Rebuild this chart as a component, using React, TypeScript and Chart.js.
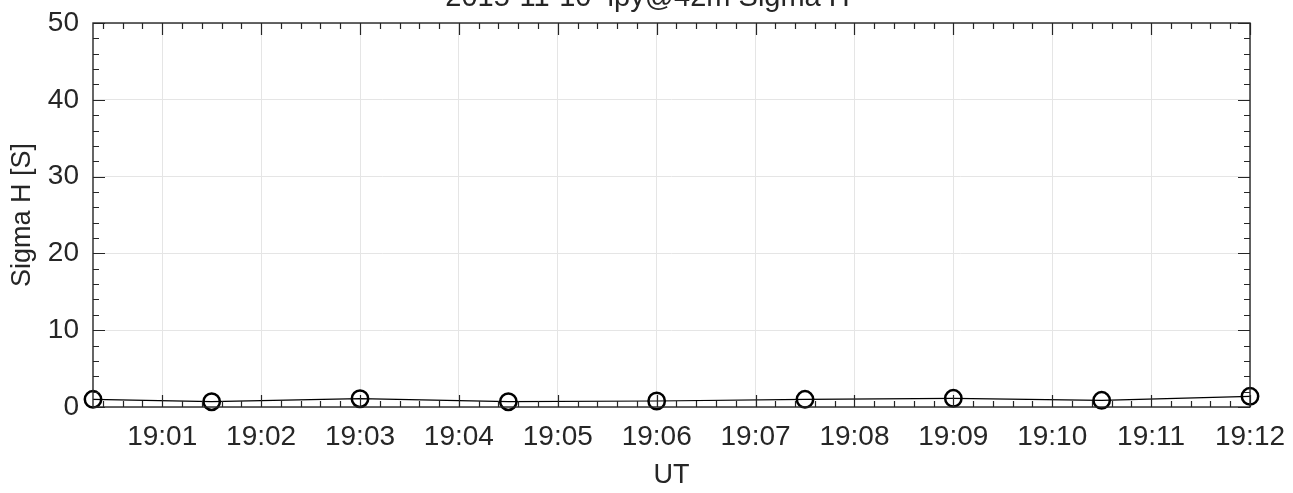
import React, { useEffect, useRef } from "react";
import { Chart, registerables } from "chart.js";

Chart.register(...registerables);

// seconds after 19:00:00 UT
const timesSec = [18, 90, 180, 270, 360, 450, 540, 630, 720];
const sigmaH = [1.0, 0.69, 1.08, 0.69, 0.78, 1.0, 1.13, 0.87, 1.39];
const xTickSec = [60, 120, 180, 240, 300, 360, 420, 480, 540, 600, 660, 720];
const xTickLabels = ["19:01", "19:02", "19:03", "19:04", "19:05", "19:06", "19:07", "19:08", "19:09", "19:10", "19:11", "19:12"];
const yTicks = [0, 10, 20, 30, 40, 50];
const titleText = "2015-11-10  ipy@42m Sigma H";

const FONT = "'Liberation Sans', Arial, Helvetica, sans-serif";
const INK = "#262626";

const boxTicksPlugin = {
  id: "boxTicks",
  afterDatasetsDraw(chart: any) {
    const { ctx, chartArea } = chart;
    const xs = chart.scales.x;
    const ys = chart.scales.y;
    const { left, right, top, bottom } = chartArea;
    ctx.save();
    ctx.strokeStyle = INK;
    ctx.lineWidth = 1.2;
    const major = 12;
    const minor = 6;
    const xmin = xs.min, xmax = xs.max;
    for (let s = Math.ceil(xmin / 12) * 12; s <= xmax + 0.001; s += 12) {
      const px = Math.round(xs.getPixelForValue(s)) + 0.5;
      const len = s % 60 === 0 ? major : minor;
      ctx.beginPath();
      ctx.moveTo(px, bottom);
      ctx.lineTo(px, bottom - len);
      ctx.moveTo(px, top);
      ctx.lineTo(px, top + len);
      ctx.stroke();
    }
    for (let v = 0; v <= 50; v += 2) {
      const py = Math.round(ys.getPixelForValue(v)) + 0.5;
      const len = v % 10 === 0 ? major : minor;
      ctx.beginPath();
      ctx.moveTo(left, py);
      ctx.lineTo(left + len, py);
      ctx.moveTo(right, py);
      ctx.lineTo(right - len, py);
      ctx.stroke();
    }
    ctx.lineWidth = 1.4;
    ctx.strokeRect(left, top, right - left, bottom - top);
    // title (partly above the canvas, as in the reference)
    ctx.fillStyle = INK;
    ctx.font = `29px ${FONT}`;
    ctx.textAlign = "center";
    ctx.textBaseline = "alphabetic";
    ctx.fillText(titleText, (left + right) / 2 - 24, 6);
    ctx.restore();
  },
};

export default function App() {
  const ref = useRef<HTMLCanvasElement | null>(null);
  useEffect(() => {
    document.body.style.margin = "0";
    const canvas = ref.current;
    if (!canvas) return;
    const chart = new Chart(canvas, {
      type: "line",
      data: {
        datasets: [
          {
            data: timesSec.map((t, i) => ({ x: t, y: sigmaH[i] })),
            borderColor: "#000",
            borderWidth: 1.2,
            pointRadius: 8.2,
            pointBorderWidth: 2.5,
            pointBorderColor: "#000",
            pointBackgroundColor: "rgba(0,0,0,0)",
            pointStyle: "circle",
            fill: false,
            tension: 0,
            clip: false as any,
          },
        ],
      },
      options: {
        animation: false,
        responsive: false,
        maintainAspectRatio: false,
        layout: { padding: { left: 0, right: 43, top: 23, bottom: 0 } },
        plugins: {
          legend: { display: false },
          tooltip: { enabled: false },
          title: { display: false },
        },
        scales: {
          x: {
            type: "linear",
            min: timesSec[0],
            max: timesSec[timesSec.length - 1],
            afterBuildTicks: (scale: any) => {
              scale.ticks = xTickSec.map((v) => ({ value: v }));
            },
            afterFit: (scale: any) => {
              scale.height = 86;
              scale.paddingLeft = 0;
              scale.paddingRight = 0;
            },
            ticks: {
              autoSkip: false,
              maxRotation: 0,
              padding: 13,
              color: INK,
              font: { family: FONT, size: 28 },
              callback: (v: any) => {
                const i = xTickSec.indexOf(Number(v));
                return i >= 0 ? xTickLabels[i] : "";
              },
            },
            grid: { color: "#e5e5e5", lineWidth: 1, drawTicks: false },
            border: { display: false },
            title: {
              display: true,
              text: "UT",
              color: INK,
              font: { family: FONT, size: 27 },
              padding: { top: 0, bottom: 1 },
            },
          },
          y: {
            type: "linear",
            min: 0,
            max: 50,
            afterBuildTicks: (scale: any) => {
              scale.ticks = yTicks.map((v) => ({ value: v }));
            },
            afterFit: (scale: any) => {
              scale.width = 93;
              scale.paddingTop = 0;
              scale.paddingBottom = 0;
            },
            ticks: {
              padding: 14,
              color: INK,
              font: { family: FONT, size: 28 },
            },
            grid: { color: "#e5e5e5", lineWidth: 1, drawTicks: false },
            border: { display: false },
            title: {
              display: true,
              text: "Sigma H [S]",
              color: INK,
              font: { family: FONT, size: 27 },
              padding: { top: 6, bottom: 0 },
            },
          },
        },
      },
      plugins: [boxTicksPlugin],
    });
    return () => chart.destroy();
  }, []);
  return (
    <div style={{ position: "absolute", left: 0, top: 0, width: 1293, height: 493 }}>
      <canvas ref={ref} width={1293} height={493} style={{ width: 1293, height: 493 }} />
    </div>
  );
}
